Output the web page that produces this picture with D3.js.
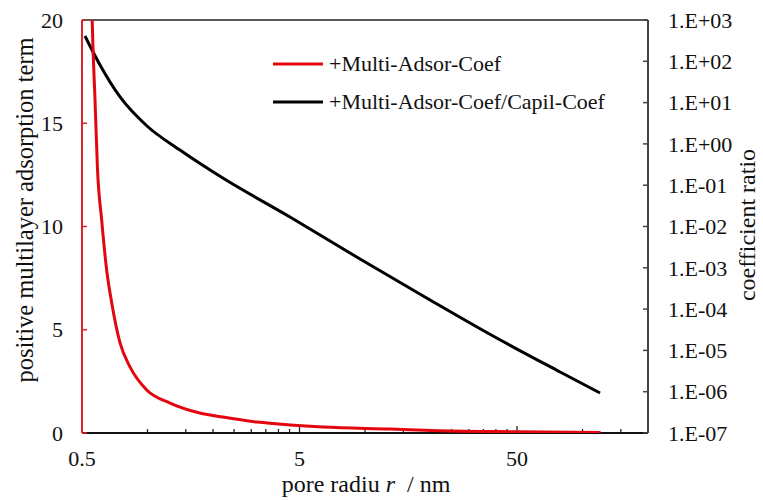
<!DOCTYPE html>
<html>
<head>
<meta charset="utf-8">
<script src="https://cdn.jsdelivr.net/npm/d3@7"></script>
<style>
  body { margin: 0; background: #fff; }
  svg text { font-family: "Liberation Serif", Tinos, "Times New Roman", Times, "DejaVu Serif", serif; fill: #111; }
</style>
</head>
<body>
<div class="chart"></div>
<script>
// pore radius (nm) and the positive multilayer adsorption term (left axis)
var redRadius = [0.552, 0.557, 0.574, 0.589, 0.616, 0.649, 0.685, 0.748, 0.831, 0.992, 1.27, 1.74, 2.22, 3.19, 4.52, 6.41, 13.0, 22, 50, 121];
var redTerm = [22, 20, 16.1, 12.8, 10.3, 7.9, 6.3, 4.36, 3.2, 2.08, 1.45, 0.97, 0.77, 0.53, 0.39, 0.29, 0.19, 0.11, 0.06, 0.03];

// pore radius (nm) and coefficient ratio (right, log axis)
var blackRadius = [0.516, 0.605, 0.748, 0.995, 1.41, 2.22, 4.52, 9.49, 19.2, 38.8, 78.9, 120.4];
var blackRatio = [410, 81.3, 13.7, 2.71, 0.711, 0.149, 0.017, 0.00163, 1.86e-4, 2.23e-5, 3.0e-6, 9.3e-7];

var xMajorTicks = [0.5, 5, 50];
var leftTicks = [0, 5, 10, 15, 20];
var rightTicks = [1e-7, 1e-6, 1e-5, 1e-4, 1e-3, 1e-2, 1e-1, 1e0, 1e1, 1e2, 1e3];
var seriesNames = ["+Multi-Adsor-Coef", "+Multi-Adsor-Coef/Capil-Coef"];

var svgWidth = 763;
var svgHeight = 500;
var margin = { top: 20, right: 115, bottom: 67, left: 82 };
var width = svgWidth - margin.left - margin.right;
var height = svgHeight - margin.top - margin.bottom;

var svg = d3.select(".chart").append("svg")
  .attr("width", svgWidth)
  .attr("height", svgHeight)
  .attr("font-family", "Liberation Serif, Tinos, Times New Roman, DejaVu Serif, serif");

var chartGroup = svg.append("g")
  .attr("transform", `translate(${margin.left}, ${margin.top})`);

var xScale = d3.scaleLog().domain([0.5, 200]).range([0, width]);
var yLeft = d3.scaleLinear().domain([0, 20]).range([height, 0]);
var yRight = d3.scaleLog().domain([1e-7, 1e3]).range([height, 0]);

// minor ticks every 0.5 x 10^n step
var xMinorTicks = [];
[0.5, 5, 50].forEach(function(base) {
  for (var k = 2; k <= 9; k++) {
    var v = base * k;
    if (v < 200) xMinorTicks.push(v);
  }
});

svg.append("defs").append("clipPath").attr("id", "clip")
  .append("rect").attr("width", width).attr("height", height);

// top border
chartGroup.append("line")
  .attr("x1", 0).attr("x2", width).attr("y1", 0).attr("y2", 0)
  .attr("stroke", "#222").attr("stroke-width", 1.5);

// bottom axis
var bottom = chartGroup.append("g").attr("transform", `translate(0, ${height})`);
bottom.append("line").attr("x1", 0).attr("x2", width)
  .attr("stroke", "#111").attr("stroke-width", 2);
bottom.selectAll(".minor").data(xMinorTicks).enter().append("line")
  .attr("x1", d => xScale(d)).attr("x2", d => xScale(d))
  .attr("y1", 0).attr("y2", -4)
  .attr("stroke", "#222").attr("stroke-width", 1.3);
bottom.selectAll(".major").data(xMajorTicks).enter().append("line")
  .attr("x1", d => xScale(d)).attr("x2", d => xScale(d))
  .attr("y1", 0).attr("y2", -7)
  .attr("stroke", "#222").attr("stroke-width", 1.3);
bottom.selectAll(".lbl").data(xMajorTicks).enter().append("text")
  .attr("x", d => xScale(d)).attr("y", 33)
  .attr("text-anchor", "middle").attr("font-size", "22px")
  .text(d => d);

// left axis (red)
var left = chartGroup.append("g");
left.append("line").attr("y1", 0).attr("y2", height)
  .attr("stroke", "#d9242a").attr("stroke-width", 2);
left.selectAll(".tk").data(leftTicks).enter().append("line")
  .attr("x1", 0).attr("x2", 5)
  .attr("y1", d => yLeft(d)).attr("y2", d => yLeft(d))
  .attr("stroke", "#d9242a").attr("stroke-width", 1.5);
left.selectAll(".lbl").data(leftTicks).enter().append("text")
  .attr("x", -19).attr("y", d => yLeft(d)).attr("dy", "0.35em")
  .attr("text-anchor", "end").attr("font-size", "22px")
  .text(d => d);

// right axis (log)
var right = chartGroup.append("g").attr("transform", `translate(${width}, 0)`);
right.append("line").attr("y1", 0).attr("y2", height)
  .attr("stroke", "#444").attr("stroke-width", 2);
right.selectAll(".tk").data(rightTicks).enter().append("line")
  .attr("x1", -5).attr("x2", 0)
  .attr("y1", d => yRight(d)).attr("y2", d => yRight(d))
  .attr("stroke", "#444").attr("stroke-width", 1.5);
right.selectAll(".lbl").data(rightTicks).enter().append("text")
  .attr("x", 20).attr("y", d => yRight(d)).attr("dy", "0.35em")
  .attr("font-size", "22px")
  .text(function(d) {
    var e = Math.round(Math.log10(d));
    return "1.E" + (e < 0 ? "-" : "+") + String(Math.abs(e)).padStart(2, "0");
  });

// lines
var redLine = d3.line()
  .x((d, i) => xScale(redRadius[i]))
  .y(d => yLeft(d))
  .curve(d3.curveMonotoneX);
var blackLine = d3.line()
  .x((d, i) => xScale(blackRadius[i]))
  .y(d => yRight(d))
  .curve(d3.curveMonotoneX);

chartGroup.append("path")
  .attr("d", blackLine(blackRatio))
  .attr("fill", "none").attr("stroke", "#000").attr("stroke-width", 3);
chartGroup.append("path")
  .attr("clip-path", "url(#clip)")
  .attr("d", redLine(redTerm))
  .attr("fill", "none").attr("stroke", "#e3060f").attr("stroke-width", 3);

// legend
var legend = chartGroup.append("g").attr("transform", "translate(191, 44)");
var legendColors = ["#e3060f", "#000"];
seriesNames.forEach(function(name, i) {
  var g = legend.append("g").attr("transform", `translate(0, ${i * 38})`);
  g.append("line").attr("x1", 0).attr("x2", 50)
    .attr("stroke", legendColors[i]).attr("stroke-width", 3);
  g.append("text").attr("x", 56).attr("dy", "0.33em")
    .attr("font-size", "22px").text(name);
});

// axis titles
var xTitle = chartGroup.append("text")
  .attr("x", width / 2 + 1).attr("y", height + 59)
  .attr("text-anchor", "middle").attr("font-size", "24px");
xTitle.append("tspan").text("pore radiu ");
xTitle.append("tspan").attr("font-style", "italic").text("r");
xTitle.append("tspan").text("\u00a0 / nm");

chartGroup.append("text")
  .attr("transform", `translate(${-49}, ${190}) rotate(-90)`)
  .attr("text-anchor", "middle").attr("font-size", "24.5px")
  .text("positive multilayer adsorption term");

chartGroup.append("text")
  .attr("transform", `translate(${width + 107}, ${205}) rotate(-90)`)
  .attr("text-anchor", "middle").attr("font-size", "24px")
  .text("coefficient ratio");
</script>
</body>
</html>
